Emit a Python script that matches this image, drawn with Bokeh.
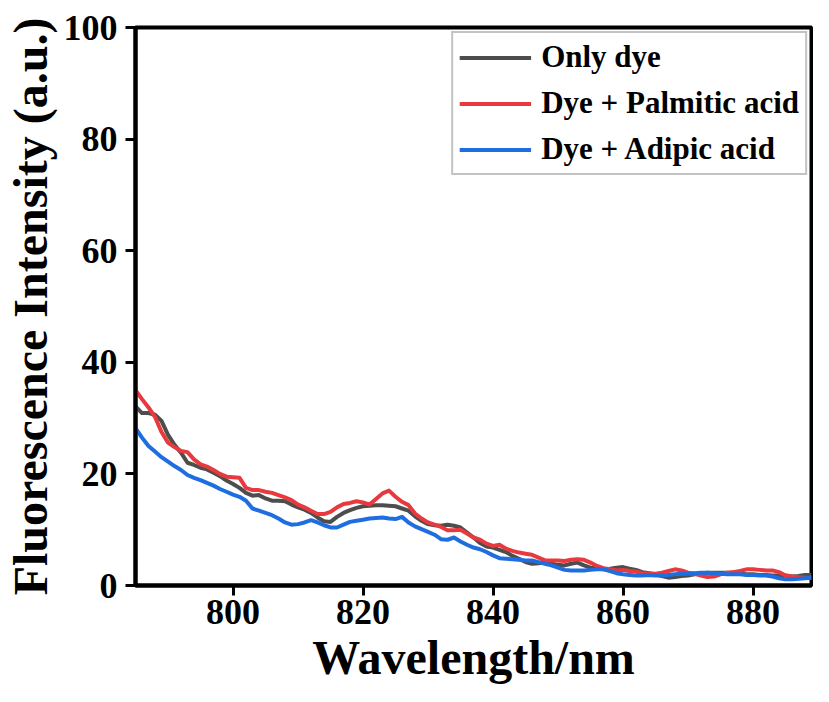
from bokeh.plotting import figure
from bokeh.models import Range1d, FixedTicker
from bokeh.embed import file_html
from bokeh.resources import INLINE

wavelength = list(range(785, 890))

only_dye = [32.1, 30.9, 30.9, 30.6, 29.5, 27.0, 25.2, 23.8, 22.0, 21.6,
            21.1, 20.8, 20.2, 19.6, 18.8, 18.2, 17.5, 16.6, 16.1, 16.2,
            15.6, 15.2, 15.2, 15.1, 14.5, 14.0, 13.6, 13.0, 12.2, 11.5,
            11.4, 12.3, 13.0, 13.5, 13.9, 14.2, 14.3, 14.4, 14.4, 14.3,
            14.2, 13.8, 13.4, 12.4, 11.6, 11.0, 10.8, 10.7, 10.9, 10.7,
            10.4, 9.5, 8.6, 7.6, 7.0, 6.8, 6.4, 6.0, 5.3, 4.8,
            4.2, 3.9, 4.0, 4.1, 3.9, 3.7, 3.6, 3.9, 4.1, 3.6,
            3.2, 3.1, 2.9, 3.0, 3.2, 3.3, 3.0, 2.8, 2.4, 2.2,
            2.0, 1.7, 1.4, 1.5, 1.7, 1.8, 2.0, 2.2, 2.3, 2.3,
            2.3, 2.3, 2.2, 2.1, 2.0, 2.0, 1.9, 1.9, 1.8, 1.8,
            1.8, 1.6, 1.7, 1.9, 1.9]

palmitic = [35.0, 33.4, 31.9, 30.2, 27.5, 25.6, 24.8, 24.1, 23.9, 22.6,
            21.7, 21.3, 20.7, 20.0, 19.5, 19.4, 19.3, 17.5, 17.1, 17.1,
            16.8, 16.6, 16.2, 15.8, 15.3, 14.5, 14.0, 13.4, 12.8, 12.8,
            13.2, 14.0, 14.6, 14.8, 15.1, 14.9, 14.5, 15.5, 16.5, 17.0,
            15.9, 15.0, 14.4, 12.9, 12.0, 11.3, 10.9, 10.5, 9.9, 9.9,
            10.0, 9.3, 8.6, 8.2, 7.5, 7.1, 7.3, 6.6, 6.2, 5.9,
            5.7, 5.5, 5.0, 4.5, 4.5, 4.5, 4.4, 4.6, 4.7, 4.6,
            4.1, 3.5, 3.1, 2.9, 2.7, 2.8, 2.6, 2.5, 2.2, 2.1,
            2.1, 2.3, 2.6, 2.9, 2.7, 2.3, 2.1, 1.8, 1.5, 1.6,
            2.0, 2.3, 2.4, 2.6, 2.9, 2.9, 2.8, 2.7, 2.7, 2.4,
            1.8, 1.6, 1.5, 1.4, 1.4]

adipic = [28.2, 26.5, 25.0, 24.0, 23.0, 22.2, 21.4, 20.7, 19.8, 19.3,
          18.9, 18.4, 17.9, 17.3, 16.8, 16.3, 15.9, 15.2, 13.8, 13.4,
          13.0, 12.6, 12.0, 11.3, 10.9, 11.0, 11.3, 11.7, 11.3, 10.8,
          10.4, 10.4, 10.9, 11.4, 11.6, 11.8, 12.0, 12.1, 12.2, 12.0,
          11.9, 12.3, 11.3, 10.6, 10.1, 9.6, 9.1, 8.3, 8.2, 8.6,
          7.9, 7.3, 6.8, 6.5, 6.0, 5.4, 4.9, 4.8, 4.7, 4.6,
          4.5, 4.5, 4.2, 3.9, 3.6, 3.2, 2.8, 2.7, 2.7, 2.7,
          2.8, 2.9, 2.9, 2.6, 2.2, 2.0, 1.9, 1.8, 1.8, 1.9,
          1.8, 1.8, 1.9, 2.0, 2.1, 2.1, 2.2, 2.3, 2.3, 2.2,
          2.1, 2.0, 2.0, 2.0, 1.9, 1.9, 1.8, 1.8, 1.6, 1.3,
          1.1, 1.1, 1.2, 1.3, 1.4]

x_ticks = [800, 820, 840, 860, 880]
y_ticks = [0, 20, 40, 60, 80, 100]
series_names = ["Only dye", "Dye + Palmitic acid", "Dye + Adipic acid"]
series_colors = ["#4d4d4d", "#e8393f", "#1f6ee0"]

FONT = "Liberation Serif"

p = figure(width=813, height=686, output_backend="svg", toolbar_location=None,
           x_range=Range1d(785, 889), y_range=Range1d(0, 100),
           min_border_left=131, min_border_right=2, min_border_top=27,
           min_border_bottom=96)

for ys, name, col in zip([only_dye, palmitic, adipic], series_names, series_colors):
    p.line(wavelength, ys, line_color=col, line_width=4, legend_label=name,
           line_join="round")

p.grid.visible = False
p.outline_line_color = "black"
p.outline_line_width = 4
p.outline_line_alpha = 1

for ax in (p.xaxis[0], p.yaxis[0]):
    ax.axis_line_width = 4
    ax.major_tick_line_width = 3
    ax.major_tick_out = 10
    ax.major_tick_in = 0
    ax.minor_tick_line_color = None
    ax.major_label_text_font = FONT
    ax.major_label_text_font_style = "bold"
    ax.major_label_text_font_size = "36px"
    ax.major_label_text_color = "black"
    ax.axis_label_text_font = FONT
    ax.axis_label_text_font_style = "bold"
    ax.axis_label_text_font_size = "48px"
    ax.axis_label_text_color = "black"

p.xaxis.ticker = FixedTicker(ticks=x_ticks)
p.yaxis.ticker = FixedTicker(ticks=y_ticks)
p.xaxis.axis_label = "Wavelength/nm"
p.yaxis.axis_label = "Fluorescence Intensity (a.u.)"
p.xaxis.major_label_standoff = 4
p.yaxis.major_label_standoff = 8
p.xaxis.axis_label_standoff = 4
p.yaxis.axis_label_standoff = 4

lg = p.legend[0]
lg.location = "top_right"
lg.margin = 4
lg.padding = 6
lg.spacing = 10
lg.glyph_width = 72
lg.glyph_height = 31
lg.label_height = 31
lg.label_standoff = 10
lg.label_text_font = FONT
lg.label_text_font_style = "bold"
lg.label_text_font_size = "31px"
lg.label_text_color = "black"
lg.border_line_color = "#888888"
lg.border_line_width = 2
lg.background_fill_alpha = 1

open("out.html", "w").write(file_html(p, INLINE))
